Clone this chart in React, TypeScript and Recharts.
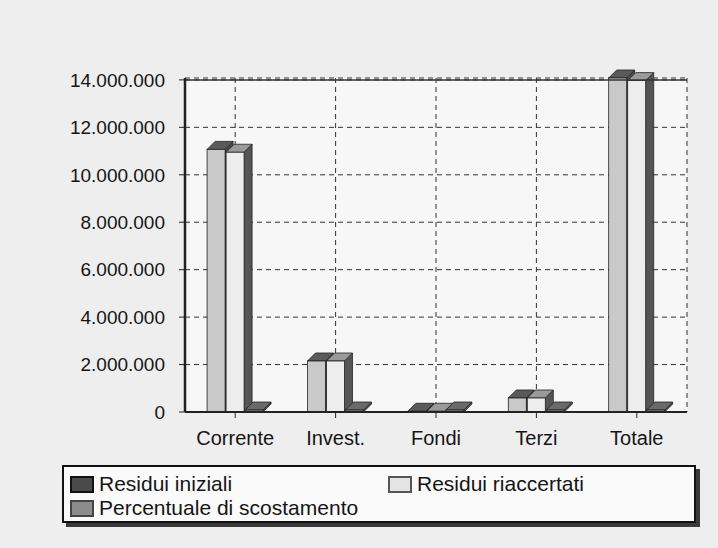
import React from 'react'
import { BarChart, Bar, XAxis, YAxis, CartesianGrid, ReferenceLine } from 'recharts'

// Data
const categories = ['Corrente', 'Invest.', 'Fondi', 'Terzi', 'Totale']
const residuiIniziali = [11070000, 2150000, 30000, 590000, 14080000]
const residuiRiaccertati = [10950000, 2150000, 30000, 590000, 13970000]
const percentualeScostamento = [1.1, 0, 0, 0, 0.8]
const yTicks = [0, 2000000, 4000000, 6000000, 8000000, 10000000, 12000000, 14000000]

const seriesNames = ['Residui iniziali', 'Residui riaccertati', 'Percentuale di scostamento']

const data = categories.map((name, i) => ({
  name,
  iniziali: residuiIniziali[i],
  riaccertati: residuiRiaccertati[i],
  percentuale: percentualeScostamento[i],
}))

const fmt = (v: number) => String(v).replace(/\B(?=(\d{3})+(?!\d))/g, '.')

const FONT = '"Liberation Sans", Arial, sans-serif'
const DEPTH = 8

// 3D-looking bar: front face, top face, right side face
function Bar3D(props: any) {
  const { x, y, width, height, front, top, side } = props
  if (x == null || width <= 0) return null
  const h = Math.max(height, 0)
  const d = DEPTH
  return (
    <g>
      <polygon
        points={`${x + width},${y} ${x + width + d},${y - d} ${x + width + d},${y + h - d} ${x + width},${y + h}`}
        fill={side}
        stroke="#222"
        strokeWidth={0.8}
      />
      <polygon
        points={`${x},${y} ${x + d},${y - d} ${x + width + d},${y - d} ${x + width},${y}`}
        fill={top}
        stroke="#222"
        strokeWidth={0.8}
      />
      <rect x={x} y={y} width={width} height={h} fill={front} stroke="#222" strokeWidth={0.8} />
    </g>
  )
}

const legendItems = [
  { label: seriesNames[0], color: '#4a4a4a', border: '#111' },
  { label: seriesNames[1], color: '#e4e4e4', border: '#555' },
  { label: seriesNames[2], color: '#8c8c8c', border: '#444' },
]

export default function App() {
  return (
    <div
      style={{
        position: 'fixed',
        left: 0,
        top: 0,
        width: 718,
        height: 548,
        background: '#eeeeee',
        fontFamily: FONT,
      }}
    >
      <BarChart
        width={718}
        height={452}
        data={data}
        margin={{ top: 78, right: 31, left: 0, bottom: 0 }}
        barCategoryGap="22%"
        barGap={1}
      >
        <CartesianGrid stroke="#333" strokeDasharray="5 4" fill="#f7f7f7" />
        <YAxis
          yAxisId="right"
          orientation="right"
          tick={false}
          tickLine={false}
          axisLine={{ stroke: '#333', strokeWidth: 1.5 }}
          width={0}
        />
        <XAxis
          dataKey="name"
          height={40}
          tickMargin={13}
          tick={{ fill: '#151515', fontSize: 20, fontFamily: FONT }}
          axisLine={{ stroke: '#222', strokeWidth: 2 }}
          tickLine={{ stroke: '#222' }}
        />
        <YAxis
          width={185}
          domain={[0, 14000000]}
          ticks={yTicks}
          interval={0}
          tickFormatter={fmt}
          tickMargin={14}
          tick={{ fill: '#151515', fontSize: 19, fontFamily: FONT }}
          axisLine={{ stroke: '#222', strokeWidth: 2.5 }}
          tickLine={{ stroke: '#222' }}
        />
        <ReferenceLine y={14000000} stroke="#333" strokeWidth={1.5} />
        <Bar
          dataKey="iniziali"
          name={seriesNames[0]}
          isAnimationActive={false}
          shape={(p: any) => <Bar3D {...p} front="#c9c9c9" top="#5a5a5a" side="#4a4a4a" />}
        />
        <Bar
          dataKey="riaccertati"
          name={seriesNames[1]}
          isAnimationActive={false}
          shape={(p: any) => <Bar3D {...p} front="#ededed" top="#9a9a9a" side="#555555" />}
        />
        <Bar
          dataKey="percentuale"
          name={seriesNames[2]}
          minPointSize={2}
          isAnimationActive={false}
          shape={(p: any) => <Bar3D {...p} front="#8c8c8c" top="#6a6a6a" side="#555555" />}
        />
      </BarChart>

      {/* Legend */}
      <div
        style={{
          position: 'absolute',
          left: 62,
          top: 465,
          width: 630,
          height: 54,
          border: '2px solid #111',
          background: '#fafafa',
          boxShadow: '4px 4px 0 #3a3a3a',
          fontSize: 21,
          lineHeight: '24px',
          color: '#151515',
        }}
      >
        {legendItems.map((it, i) => (
          <div
            key={it.label}
            style={{
              position: 'absolute',
              left: i === 1 ? 324 : 6,
              top: i === 2 ? 29 : 5,
              display: 'flex',
              alignItems: 'center',
            }}
          >
            <span
              style={{
                display: 'inline-block',
                width: 20,
                height: 13,
                background: it.color,
                border: `2px solid ${it.border}`,
                marginRight: 5,
              }}
            />
            <span>{it.label}</span>
          </div>
        ))}
      </div>
    </div>
  )
}
